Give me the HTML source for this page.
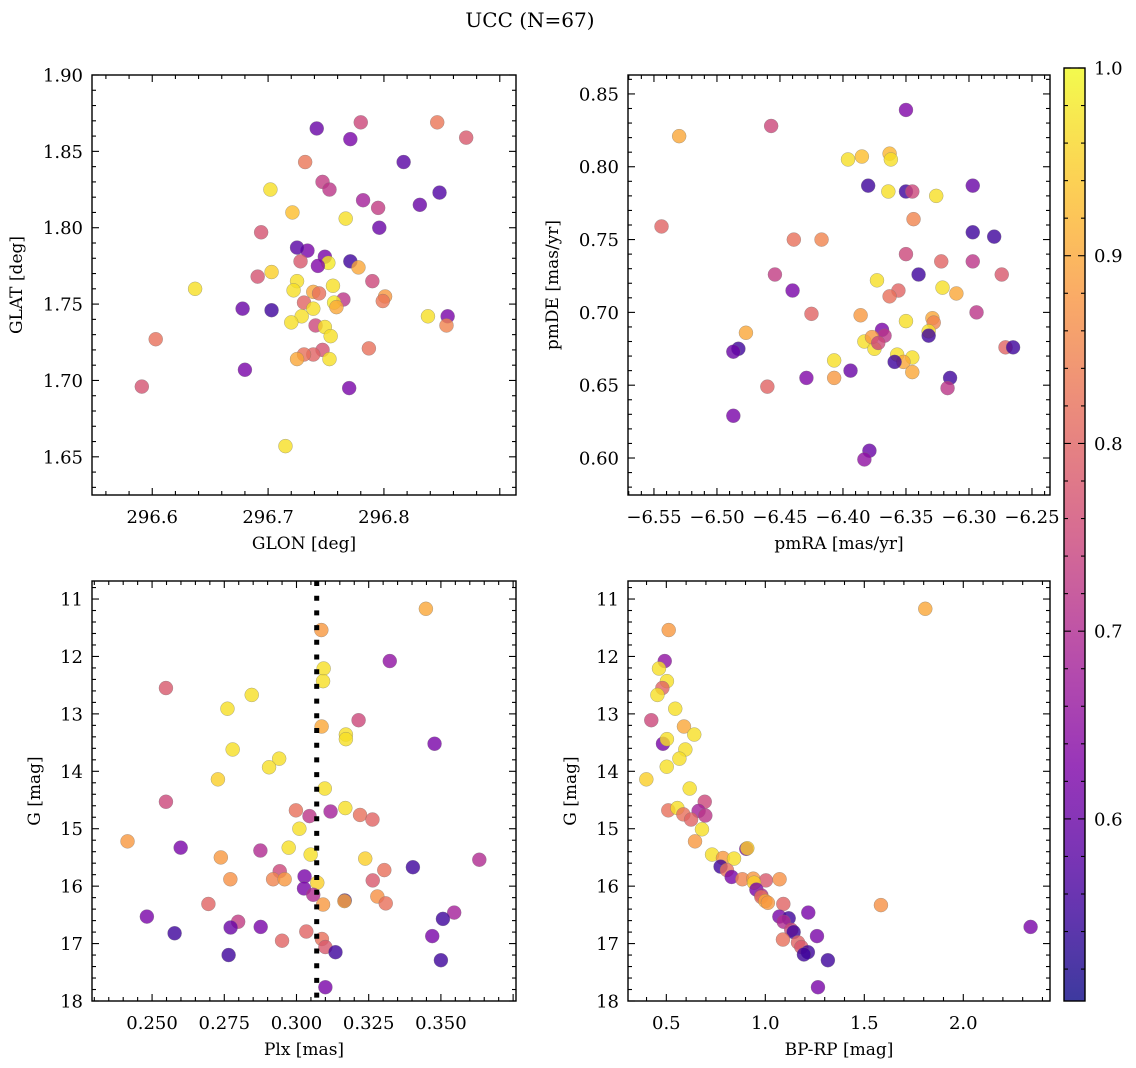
<!DOCTYPE html>
<html><head><meta charset="utf-8"><style>
html,body{margin:0;padding:0;background:#fff;}
svg{display:block;font-family:"DejaVu Serif","Liberation Serif",serif;}
</style></head><body>
<svg id="fig" width="1136" height="1068" viewBox="0 0 1136 1068" xmlns="http://www.w3.org/2000/svg">
<text x="530" y="27" font-size="20" text-anchor="middle">UCC (N=67)</text>
</svg>
<script>
// ---------- data ----------
const p1x=[296.871,296.846,296.780,296.742,296.771,296.817,296.848,296.732,296.747,296.753,296.702,296.782,296.795,296.767,296.721,296.831,296.694,296.796,296.734,296.749,296.725,296.752,296.728,296.771,296.778,296.703,296.743,296.691,296.637,296.756,296.790,296.725,296.722,296.801,296.739,296.744,296.799,296.765,296.731,296.757,296.759,296.678,296.703,296.729,296.739,296.720,296.855,296.838,296.854,296.603,296.741,296.749,296.754,296.787,296.747,296.739,296.731,296.725,296.753,296.680,296.591,296.770,296.715];
const p1y=[1.859,1.869,1.869,1.865,1.858,1.843,1.823,1.843,1.830,1.825,1.825,1.818,1.813,1.806,1.810,1.815,1.797,1.800,1.785,1.781,1.787,1.777,1.778,1.778,1.774,1.771,1.775,1.768,1.760,1.762,1.765,1.765,1.759,1.755,1.758,1.757,1.752,1.753,1.751,1.751,1.748,1.747,1.746,1.742,1.747,1.738,1.742,1.742,1.736,1.727,1.736,1.735,1.729,1.721,1.720,1.717,1.717,1.714,1.714,1.707,1.696,1.695,1.657];
const p1c=[0.78,0.83,0.75,0.60,0.62,0.58,0.57,0.83,0.73,0.72,0.97,0.68,0.73,0.97,0.93,0.60,0.77,0.60,0.62,0.62,0.58,0.98,0.78,0.55,0.90,0.95,0.63,0.77,0.97,0.97,0.75,0.97,0.97,0.88,0.90,0.82,0.83,0.72,0.80,0.98,0.90,0.60,0.55,0.97,0.97,0.97,0.62,0.97,0.85,0.82,0.75,0.97,0.97,0.82,0.77,0.80,0.82,0.90,0.97,0.62,0.77,0.62,0.97];

const p2x=[-6.530,-6.544,-6.457,-6.350,-6.385,-6.396,-6.363,-6.362,-6.380,-6.350,-6.364,-6.345,-6.326,-6.297,-6.344,-6.297,-6.280,-6.439,-6.417,-6.350,-6.322,-6.297,-6.454,-6.340,-6.274,-6.373,-6.356,-6.321,-6.440,-6.363,-6.310,-6.425,-6.386,-6.294,-6.350,-6.329,-6.328,-6.369,-6.477,-6.367,-6.332,-6.332,-6.383,-6.375,-6.377,-6.357,-6.345,-6.352,-6.359,-6.483,-6.487,-6.271,-6.265,-6.407,-6.372,-6.345,-6.315,-6.317,-6.460,-6.429,-6.407,-6.394,-6.487,-6.379,-6.383];
const p2y=[0.821,0.759,0.828,0.839,0.807,0.805,0.809,0.805,0.787,0.783,0.783,0.783,0.780,0.787,0.764,0.755,0.752,0.750,0.750,0.740,0.735,0.735,0.726,0.726,0.726,0.722,0.715,0.717,0.715,0.711,0.713,0.699,0.698,0.700,0.694,0.696,0.693,0.688,0.686,0.684,0.687,0.684,0.680,0.675,0.683,0.671,0.669,0.666,0.666,0.675,0.673,0.676,0.676,0.667,0.679,0.659,0.655,0.648,0.649,0.655,0.655,0.660,0.629,0.605,0.599];
const p2c=[0.90,0.80,0.75,0.63,0.93,0.97,0.92,0.97,0.55,0.55,0.97,0.75,0.97,0.60,0.85,0.55,0.55,0.82,0.85,0.75,0.80,0.72,0.73,0.55,0.78,0.97,0.80,0.97,0.62,0.82,0.90,0.80,0.88,0.72,0.97,0.90,0.85,0.62,0.90,0.72,0.97,0.55,0.97,0.97,0.88,0.97,0.97,0.90,0.55,0.55,0.60,0.80,0.55,0.97,0.75,0.90,0.55,0.72,0.80,0.63,0.88,0.60,0.62,0.60,0.65];

const p3x=[0.3448,0.3086,0.3323,0.3094,0.3092,0.2548,0.2845,0.2761,0.3087,0.3215,0.3171,0.3171,0.3478,0.2779,0.2940,0.2905,0.2728,0.3098,0.2548,0.2998,0.3045,0.3118,0.3169,0.3220,0.3263,0.3010,0.2415,0.2599,0.2875,0.2973,0.3049,0.2738,0.3238,0.3633,0.3403,0.3304,0.2942,0.3028,0.2771,0.2919,0.2959,0.3072,0.3264,0.3026,0.3058,0.3092,0.3167,0.3166,0.3280,0.3309,0.2695,0.2482,0.3546,0.3507,0.2798,0.2772,0.2876,0.2578,0.3034,0.3470,0.3088,0.2950,0.3100,0.3135,0.2765,0.3500,0.3100];
const p3y=[11.17,11.54,12.08,12.21,12.43,12.55,12.67,12.91,13.22,13.11,13.36,13.44,13.52,13.62,13.78,13.93,14.14,14.30,14.53,14.68,14.78,14.70,14.64,14.76,14.84,15.00,15.22,15.33,15.38,15.33,15.45,15.50,15.52,15.54,15.67,15.72,15.74,15.83,15.88,15.88,15.88,15.94,15.90,16.04,16.15,16.32,16.25,16.26,16.18,16.30,16.31,16.53,16.46,16.57,16.62,16.72,16.71,16.82,16.79,16.87,16.92,16.95,17.06,17.15,17.20,17.29,17.76];
const p3c=[0.90,0.88,0.65,0.97,0.97,0.78,0.97,0.97,0.90,0.75,0.97,0.97,0.62,0.97,0.97,0.97,0.95,0.97,0.75,0.82,0.72,0.68,0.97,0.82,0.80,0.97,0.88,0.62,0.70,0.97,0.97,0.88,0.95,0.70,0.55,0.82,0.75,0.62,0.87,0.85,0.88,0.95,0.78,0.62,0.70,0.88,0.55,0.90,0.87,0.82,0.80,0.62,0.68,0.55,0.73,0.60,0.62,0.55,0.80,0.62,0.82,0.80,0.78,0.55,0.55,0.55,0.62];

const p4x=[1.808,0.512,0.492,0.463,0.503,0.480,0.455,0.545,0.424,0.589,0.641,0.483,0.503,0.596,0.566,0.502,0.399,0.618,0.694,0.510,0.556,0.663,0.697,0.586,0.625,0.680,0.645,0.904,0.909,0.731,0.786,0.842,0.774,0.806,0.830,0.884,0.939,1.003,1.072,0.943,0.955,0.980,0.980,1.000,1.013,1.091,1.584,1.217,1.071,1.118,1.093,1.131,1.143,2.340,1.261,1.089,1.165,1.182,1.215,1.195,1.316,1.266];
const p4y=[11.17,11.54,12.08,12.21,12.43,12.55,12.67,12.91,13.11,13.22,13.36,13.52,13.44,13.62,13.78,13.92,14.14,14.30,14.53,14.68,14.64,14.69,14.77,14.75,14.84,15.01,15.22,15.35,15.34,15.45,15.51,15.52,15.66,15.72,15.84,15.88,15.87,15.90,15.88,15.94,16.06,16.16,16.19,16.26,16.29,16.31,16.33,16.46,16.53,16.56,16.62,16.76,16.80,16.71,16.87,16.93,16.98,17.06,17.15,17.19,17.29,17.76];
const p4c=[0.90,0.88,0.65,0.97,0.97,0.80,0.97,0.97,0.75,0.90,0.97,0.62,0.97,0.97,0.97,0.97,0.95,0.97,0.75,0.82,0.97,0.68,0.72,0.82,0.80,0.97,0.88,0.62,0.95,0.97,0.88,0.97,0.55,0.82,0.62,0.85,0.88,0.78,0.87,0.95,0.62,0.70,0.82,0.90,0.88,0.80,0.87,0.62,0.62,0.55,0.70,0.75,0.55,0.62,0.62,0.82,0.80,0.78,0.55,0.55,0.55,0.62];

const plxLine=[0.307];
const cbarTicks=[0.6,0.7,0.8,0.9,1.0];
const vmin=0.503, vmax=1.0;

// ---------- helpers ----------
const NS="http://www.w3.org/2000/svg";
const svg=document.getElementById('fig');
function mk(tag,attrs,parent){const e=document.createElementNS(NS,tag);for(const k in attrs)e.setAttribute(k,attrs[k]);(parent||svg).appendChild(e);return e;}
const stops=["#0d0887","#4c02a1","#7e03a8","#a92395","#cc4778","#e56b5d","#f89441","#fdc328","#f0f921"];
function hex(h){return [parseInt(h.slice(1,3),16),parseInt(h.slice(3,5),16),parseInt(h.slice(5,7),16)];}
function plasma(t){t=Math.max(0,Math.min(1,t));const f=t*8,i=Math.min(7,Math.floor(f)),r=f-i;const a=hex(stops[i]),b=hex(stops[i+1]);return `rgb(${a.map((v,k)=>Math.round(v+(b[k]-v)*r)).join(',')})`;}
function cmap(c){return plasma((c-vmin)/(vmax-vmin));}

function axes(cfg){
  const g=mk('g',{});
  
  
  const {L,T,R,B,x0,x1,y0,y1}=cfg;
  const sx=v=>L+(v-x0)/(x1-x0)*(R-L);
  const sy=v=>T+(v-y0)/(y1-y0)*(B-T);
  const marks=mk('g',{},g);
  cfg.draw(marks,sx,sy);
  mk('rect',{x:L,y:T,width:R-L,height:B-T,fill:'none',stroke:'#000','stroke-width':1.4},g);
  const tg=mk('g',{stroke:'#000','stroke-width':1.1},g);
  const eps=1e-9;
  for(let v=Math.ceil(Math.min(x0,x1)/cfg.xmin-eps)*cfg.xmin;v<=Math.max(x0,x1)+eps;v+=cfg.xmin){
    const major=Math.abs(v/cfg.xmaj-Math.round(v/cfg.xmaj))<1e-6;const len=major?7:4;const x=sx(v);
    mk('line',{x1:x,x2:x,y1:B,y2:B-len},tg);mk('line',{x1:x,x2:x,y1:T,y2:T+len},tg);
  }
  for(let v=Math.ceil(Math.min(y0,y1)/cfg.ymin-eps)*cfg.ymin;v<=Math.max(y0,y1)+eps;v+=cfg.ymin){
    const major=Math.abs(v/cfg.ymaj-Math.round(v/cfg.ymaj))<1e-6;const len=major?7:4;const y=sy(v);
    mk('line',{y1:y,y2:y,x1:L,x2:L+len},tg);mk('line',{y1:y,y2:y,x1:R,x2:R-len},tg);
  }
  cfg.xticks.forEach(v=>{const t=mk('text',{x:sx(v),y:B+28,'font-size':18,'text-anchor':'middle'},g);t.textContent=cfg.fmtx(v);
    
    });
  cfg.yticks.forEach(v=>{const t=mk('text',{x:L-9,y:sy(v)+6.5,'font-size':18,'text-anchor':'end'},g);t.textContent=cfg.fmty(v);
    
    });
  const xl=mk('text',{x:(L+R)/2,y:B+54,'font-size':17,'text-anchor':'middle'},g);xl.textContent=cfg.xlabel;
  
  
  const yx=cfg.ylx, yy=(T+B)/2;
  const yl=mk('text',{x:yx,y:yy,'font-size':17,'text-anchor':'middle',transform:`rotate(-90 ${yx} ${yy})`},g);yl.textContent=cfg.ylabel;
  
  
}
function scatter(xs,ys,cs){return (g,sx,sy)=>{xs.forEach((v,i)=>{
  const c=mk('circle',{cx:sx(v),cy:sy(ys[i]),r:7,fill:cmap(cs[i]),'fill-opacity':0.8,stroke:'#777','stroke-opacity':0.6,'stroke-width':0.5},g);
  
  
});};}
const minus=s=>s.replace('-','\u2212');

axes({name:'panel-glon-glat',L:92,T:75,R:516,B:495,x0:296.548,x1:296.914,y0:1.90,y1:1.625,
  xmaj:0.1,xmin:0.02,ymaj:0.05,ymin:0.01,xticks:[296.6,296.7,296.8],yticks:[1.65,1.70,1.75,1.80,1.85,1.90],
  fmtx:v=>v.toFixed(1),fmty:v=>v.toFixed(2),xlabel:'GLON [deg]',ylabel:'GLAT [deg]',ylx:22,draw:scatter(p1x,p1y,p1c)});
axes({name:'panel-pmra-pmde',L:628,T:75,R:1050,B:495,x0:-6.5706,x1:-6.2357,y0:0.863,y1:0.5746,
  xmaj:0.05,xmin:0.01,ymaj:0.05,ymin:0.01,xticks:[-6.55,-6.50,-6.45,-6.40,-6.35,-6.30,-6.25],yticks:[0.60,0.65,0.70,0.75,0.80,0.85],
  fmtx:v=>minus(v.toFixed(2)),fmty:v=>v.toFixed(2),xlabel:'pmRA [mas/yr]',ylabel:'pmDE [mas/yr]',ylx:558,draw:scatter(p2x,p2y,p2c)});
axes({name:'panel-plx-g',L:92,T:581,R:516,B:1001,x0:0.2292,x1:0.376,y0:10.686,y1:18.0,
  xmaj:0.025,xmin:0.005,ymaj:1,ymin:0.2,xticks:[0.250,0.275,0.300,0.325,0.350],yticks:[11,12,13,14,15,16,17,18],
  fmtx:v=>v.toFixed(3),fmty:v=>String(v),xlabel:'Plx [mas]',ylabel:'G [mag]',ylx:40,
  draw:(g,sx,sy)=>{scatter(p3x,p3y,p3c)(g,sx,sy);plxLine.forEach(v=>{
    const l=mk('line',{x1:sx(v),x2:sx(v),y1:581,y2:1001,stroke:'#000','stroke-width':5,'stroke-dasharray':'5 9.7'},g);
    
    });}});
axes({name:'panel-cmd',L:628,T:581,R:1050,B:1001,x0:0.3064,x1:2.438,y0:10.686,y1:18.0,
  xmaj:0.5,xmin:0.1,ymaj:1,ymin:0.2,xticks:[0.5,1.0,1.5,2.0],yticks:[11,12,13,14,15,16,17,18],
  fmtx:v=>v.toFixed(1),fmty:v=>String(v),xlabel:'BP-RP [mag]',ylabel:'G [mag]',ylx:576,draw:scatter(p4x,p4y,p4c)});

// colorbar
(function(){
  const L=1064,R=1085,T=68,B=1001;
  const g=mk('g',{});
  
  
  const defs=mk('defs',{},g);
  const lg=mk('linearGradient',{id:'cbg',x1:0,y1:1,x2:0,y2:0},defs);
  for(let i=0;i<=20;i++){mk('stop',{offset:i/20,'stop-color':plasma(i/20),'stop-opacity':0.8},lg);}
  mk('rect',{x:L,y:T,width:R-L,height:B-T,fill:'url(#cbg)',stroke:'#000','stroke-width':1.4},g);
  const sy=v=>B-(v-vmin)/(vmax-vmin)*(B-T);
  for(let v=0.52;v<=1.0001;v+=0.02){const y=sy(v);const major=Math.abs(v*10-Math.round(v*10))<1e-6;
    mk('line',{x1:R,x2:R-(major?7:4),y1:y,y2:y,stroke:'#000','stroke-width':1.1},g);
    mk('line',{x1:L,x2:L+(major?7:4),y1:y,y2:y,stroke:'#000','stroke-width':1.1},g);}
  cbarTicks.forEach(v=>{const t=mk('text',{x:R+9,y:sy(v)+6.5,'font-size':18},g);t.textContent=v.toFixed(1);
    
    });
})();
</script>
</body></html>
